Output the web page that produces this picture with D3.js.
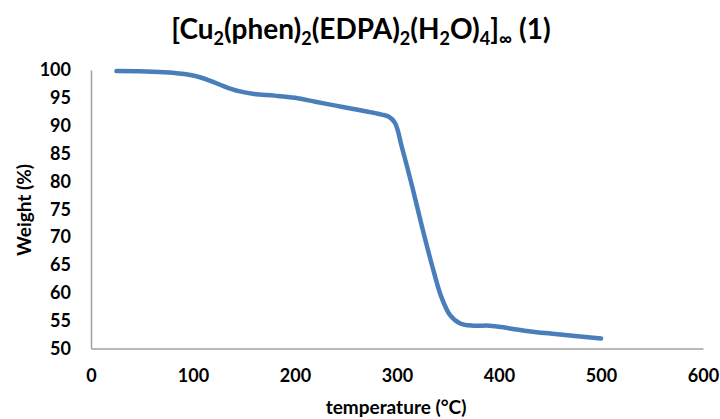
<!DOCTYPE html>
<html>
<head>
<meta charset="utf-8">
<script src="https://cdn.jsdelivr.net/npm/d3@7"></script>
<style>
  body { margin: 0; background: #fff; }
  text { font-family: Lato, "Liberation Sans", sans-serif; font-weight: bold; fill: #000; }
</style>
</head>
<body>
<div id="chart"></div>
<script>
// TGA curve
var temps = [25, 60, 80, 100, 115, 130, 145, 160, 180, 200, 220, 240, 260, 275, 285, 292, 298, 305, 315, 325, 335, 343, 352, 362, 375, 390, 400, 425, 455, 500];
var weights = [99.8, 99.7, 99.5, 99.0, 98.2, 97.1, 96.2, 95.7, 95.4, 95.0, 94.3, 93.6, 92.9, 92.4, 92.0, 91.6, 90.5, 86.0, 79.0, 71.5, 64.5, 59.5, 56.0, 54.5, 54.1, 54.1, 53.9, 53.2, 52.6, 51.8];
var xTicks = [0, 100, 200, 300, 400, 500, 600];
var yTicks = [50, 55, 60, 65, 70, 75, 80, 85, 90, 95, 100];

var width = 720, height = 419;
var margin = {top: 70, right: 17, bottom: 70, left: 91};

var svg = d3.select("#chart")
    .append("svg")
    .attr("width", width)
    .attr("height", height);

var x = d3.scaleLinear().domain([0, 600]).range([margin.left, width - margin.right]);
var y = d3.scaleLinear().domain([50, 100]).range([height - margin.bottom - 0.5, margin.top]);

// axes (no tick marks, grey lines)
svg.append("g")
    .attr("transform", "translate(0," + y(50) + ")")
    .call(d3.axisBottom(x).tickValues(xTicks).tickSize(0).tickPadding(21));
svg.append("g")
    .attr("transform", "translate(" + x(0) + ",0)")
    .call(d3.axisLeft(y).tickValues(yTicks).tickSize(0).tickPadding(20));

svg.selectAll(".domain").attr("stroke", "#a0a0a0").attr("stroke-width", 1.5);
svg.selectAll(".tick text")
    .style("font-family", "Lato, 'Liberation Sans', sans-serif")
    .style("font-weight", "bold")
    .style("font-size", "18px")
    .attr("fill", "#000");

// line
var data = temps.map(function (t, i) { return [t, weights[i]]; });
svg.append("path")
    .datum(data)
    .attr("fill", "none")
    .attr("stroke", "#4A7EBB")
    .attr("stroke-width", 4.5)
    .attr("stroke-linecap", "round")
    .attr("d", d3.line()
        .x(function (d) { return x(d[0]); })
        .y(function (d) { return y(d[1]); })
        .curve(d3.curveCatmullRom.alpha(0.5)));

// title with subscripts
var title = svg.append("text")
    .attr("x", 361)
    .attr("y", 39)
    .attr("text-anchor", "middle")
    .style("font-size", "28px");
var parts = [["[Cu", 0], ["2", 1], ["(phen)", 0], ["2", 1], ["(EDPA)", 0], ["2", 1], ["(H", 0], ["2", 1], ["O)", 0], ["4", 1], ["]", 0], ["\u221e", 1], [" (1)", 0]];
var prevSub = false;
parts.forEach(function (p) {
    var ts = title.append("tspan").text(p[0]);
    if (p[1]) {
        ts.style("font-size", "18px").attr("dy", prevSub ? 0 : 6);
    } else if (prevSub) {
        ts.attr("dy", -6);
    }
    prevSub = !!p[1];
});

// axis titles
svg.append("text")
    .attr("x", 396)
    .attr("y", 414)
    .attr("text-anchor", "middle")
    .style("font-size", "19px")
    .text("temperature (°C)");

svg.append("text")
    .attr("transform", "translate(31,210) rotate(-90)")
    .attr("text-anchor", "middle")
    .style("font-size", "19px")
    .text("Weight (%)");
</script>
</body>
</html>
